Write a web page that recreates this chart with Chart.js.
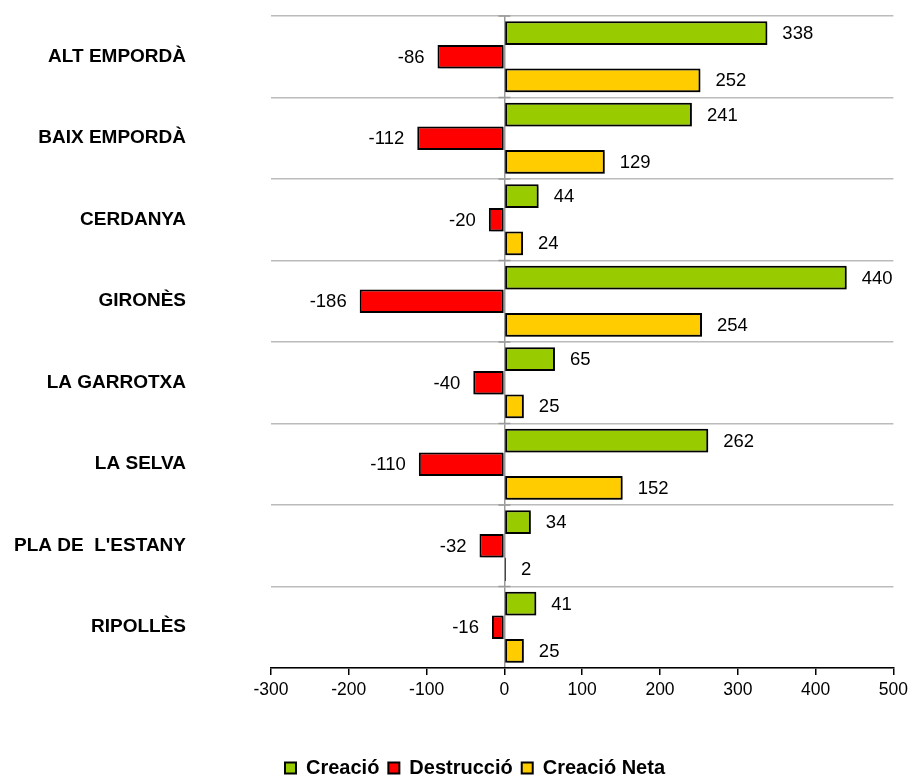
<!DOCTYPE html>
<html>
<head>
<meta charset="utf-8">
<script src="https://cdn.jsdelivr.net/npm/chart.js@4.4.0/dist/chart.umd.min.js"></script>
<style>
html,body{margin:0;padding:0;background:#fff;}
#wrap{width:913px;height:776px;position:relative;}
</style>
</head>
<body>
<div id="wrap"><canvas id="c"></canvas></div>
<script>
const categories = ["ALT EMPORDÀ","BAIX EMPORDÀ","CERDANYA","GIRONÈS","LA GARROTXA","LA SELVA","PLA DE  L'ESTANY","RIPOLLÈS"];
const creacio = [338,241,44,440,65,262,34,41];
const destruccio = [-86,-112,-20,-186,-40,-110,-32,-16];
const creacioNeta = [252,129,24,254,25,152,2,25];
const xTicks = [-300,-200,-100,0,100,200,300,400,500];

const FONT = "'Liberation Sans', Arial, sans-serif";

const shadowPlugin = {
  id:'shadow',
  beforeDatasetsDraw(chart){
    const ctx=chart.ctx; ctx.save();
    ctx.shadowColor='rgba(0,0,0,0.35)'; ctx.shadowBlur=3; ctx.shadowOffsetX=2; ctx.shadowOffsetY=2;
  },
  afterDatasetsDraw(chart){ chart.ctx.restore(); }
};

const legendShift = {
  id:'legendShift',
  afterLayout(chart){ if(chart.legend){ chart.legend.left += 39; } }
};

const labelPlugin = {
  id:'labels',
  afterDraw(chart){
    const ctx=chart.ctx;
    ctx.save();
    ctx.font="18.5px "+FONT; ctx.fillStyle='#000'; ctx.textBaseline='middle';
    chart.data.datasets.forEach((ds,i)=>{
      const meta=chart.getDatasetMeta(i);
      meta.data.forEach((el,j)=>{
        const v=ds.data[j];
        if(v>=0){ ctx.textAlign='left'; ctx.fillText(String(v), el.x+15, el.y+1); }
        else { ctx.textAlign='right'; ctx.fillText(String(v), el.x-13, el.y+1); }
      });
    });
    const xs=chart.scales.x, ys=chart.scales.y;
    const x0=xs.getPixelForValue(0);
    const step=(ys.bottom-ys.top)/categories.length;
    ctx.strokeStyle='#999'; ctx.lineWidth=1.5;
    for(let k=0;k<categories.length;k++){
      const y = ys.top + k*step;
      ctx.beginPath(); ctx.moveTo(x0-6,y); ctx.lineTo(x0+6,y); ctx.stroke();
    }
    ctx.restore();
  }
};

new Chart(document.getElementById('c'),{
  type:'bar',
  data:{
    labels:categories,
    datasets:[
      {label:'Creació',data:creacio,backgroundColor:'#99CC00',borderColor:'#000',borderWidth:2,borderSkipped:false},
      {label:'Destrucció',data:destruccio,backgroundColor:'#FF0000',borderColor:'#000',borderWidth:2,borderSkipped:false},
      {label:'Creació Neta',data:creacioNeta,backgroundColor:'#FFCC00',borderColor:'#000',borderWidth:2,borderSkipped:false}
    ]
  },
  options:{
    indexAxis:'y',
    responsive:true,
    maintainAspectRatio:false,
    animation:false,
    devicePixelRatio:1,
    layout:{padding:{left:11,right:13,top:16,bottom:-12}},
    datasets:{bar:{categoryPercentage:0.87,barPercentage:1.0}},
    scales:{
      x:{
        min:-300,max:500,
        afterBuildTicks(s){ s.ticks = xTicks.map(v=>({value:v})); },
        ticks:{font:{family:FONT,size:17.5},color:'#000',padding:5},
        grid:{
          color:(c)=> (c.tick && c.tick.value===0) ? '#999' : 'rgba(0,0,0,0)',
          lineWidth:1.5,
          drawTicks:true,tickLength:7,tickColor:'#000',tickWidth:1.5
        },
        border:{display:true,color:'#000',width:1.5},
        title:{display:true,text:' ',font:{size:10},padding:{top:31,bottom:0}}
      },
      y:{
        ticks:{font:{family:FONT,size:19,weight:'bold'},color:'#000',padding:0},
        grid:{color:'#bbb',lineWidth:1.5,drawTicks:true,tickLength:85,tickColor:'rgba(0,0,0,0)',offset:true},
        border:{display:false},
        afterFit(s){ s.width = 260; }
      }
    },
    plugins:{
      legend:{
        position:'bottom',
        labels:{font:{family:FONT,size:20,weight:'bold'},color:'#000',boxWidth:11,boxHeight:11,padding:9}
      },
      tooltip:{enabled:false}
    }
  },
  plugins:[shadowPlugin,legendShift,labelPlugin]
});
</script>
</body>
</html>
